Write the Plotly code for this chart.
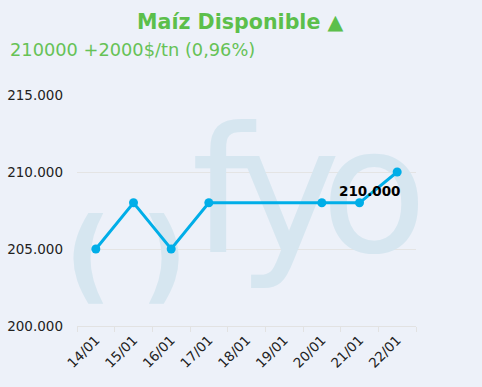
import plotly.graph_objects as go

# ---- data ----
dates = ["14/01", "15/01", "16/01", "17/01", "18/01", "19/01", "20/01", "21/01", "22/01"]
prices = [205000, 208000, 205000, 208000, None, None, 208000, 208000, 210000]
y_ticks = [200000, 205000, 210000, 215000]

title_txt = "Maíz Disponible ▲"
subtitle_txt = "210000 +2000$/tn (0,96%)"

W, H = 482, 387
L, R, T, B = 77, 66, 95, 61
XR = [-0.5, 8.5]
YR = [200000, 215000]

def px2x(px):
    return XR[0] + (px - L) / (W - L - R) * (XR[1] - XR[0])

def py2y(py):
    return YR[0] + (H - B - py) / (H - T - B) * (YR[1] - YR[0])

WM = "#d6e6f0"
GREEN = "#5cbf4b"
BLUE = "#00aee8"

fig = go.Figure()

# watermark logo (decorative), drawn first so it sits below the line
fig.add_trace(go.Scatter(
    x=[px2x(222), px2x(289), px2x(374)], y=[py2y(208), py2y(208), py2y(208)],
    mode="text", text=["f", "y", "o"],
    textfont=dict(family="DejaVu Sans", size=175, color=WM),
    textposition="middle center", hoverinfo="skip", showlegend=False, cliponaxis=False))
fig.add_trace(go.Scatter(
    x=[px2x(88), px2x(164)], y=[py2y(264), py2y(264)],
    mode="text", text=["<b>(</b>", "<b>)</b>"],
    textfont=dict(family="DejaVu Sans", size=102, color=WM),
    textposition="middle center", hoverinfo="skip", showlegend=False, cliponaxis=False))

xs = list(range(len(dates)))
fig.add_trace(go.Scatter(
    x=xs, y=prices, mode="lines+markers", connectgaps=True,
    line=dict(color=BLUE, width=3), marker=dict(color=BLUE, size=9),
    hoverinfo="skip", showlegend=False, cliponaxis=False))

last = prices[-1]
fig.add_annotation(
    x=xs[-1], y=last, text="<b>" + f"{last:,}".replace(",", ".") + "</b>",
    showarrow=False, xanchor="right", yanchor="middle", xshift=6, yshift=-19,
    font=dict(family="DejaVu Sans", size=13.5, color="#000000"))

fig.add_annotation(
    x=0.5, y=1, xref="paper", yref="paper", xanchor="center", yanchor="middle",
    xshift=240 - 246.5, yshift=95 - 22, text="<b>" + title_txt + "</b>", showarrow=False,
    font=dict(family="DejaVu Sans", size=20.6, color=GREEN))
fig.add_annotation(
    x=0, y=1, xref="paper", yref="paper", xanchor="left", yanchor="middle",
    xshift=10 - 77 - 2, yshift=95 - 49, text=subtitle_txt, showarrow=False,
    font=dict(family="DejaVu Sans", size=17.8, color="#66c256"))

fig.update_layout(
    width=W, height=H, autosize=False,
    margin=dict(l=L, r=R, t=T, b=B, pad=0, autoexpand=False),
    paper_bgcolor="#edf1f9", plot_bgcolor="#edf1f9",
    separators=",.",
    font=dict(family="DejaVu Sans", color="#222222"),
    xaxis=dict(
        range=XR, tickmode="array", tickvals=xs, ticktext=dates, automargin=False,
        tickangle=-45, ticks="", showgrid=False, zeroline=False,
        showline=True, linecolor="#e2e2e2", linewidth=1,
        tickfont=dict(size=13.5, color="#222222"),
        minor=dict(tickmode="array", tickvals=[i - 0.5 for i in range(len(dates) + 1)],
                   ticks="outside", ticklen=5, tickcolor="#e2e2e2", showgrid=False),
    ),
    yaxis=dict(
        range=YR, tickmode="array", tickvals=y_ticks, tickformat=",d", automargin=False,
        showgrid=True, gridcolor="#e4e4e4", gridwidth=1, zeroline=False,
        ticks="", tickfont=dict(size=13.5, color="#222222"), ticklabelstandoff=13,
    ),
)

fig.write_html("out.html")
